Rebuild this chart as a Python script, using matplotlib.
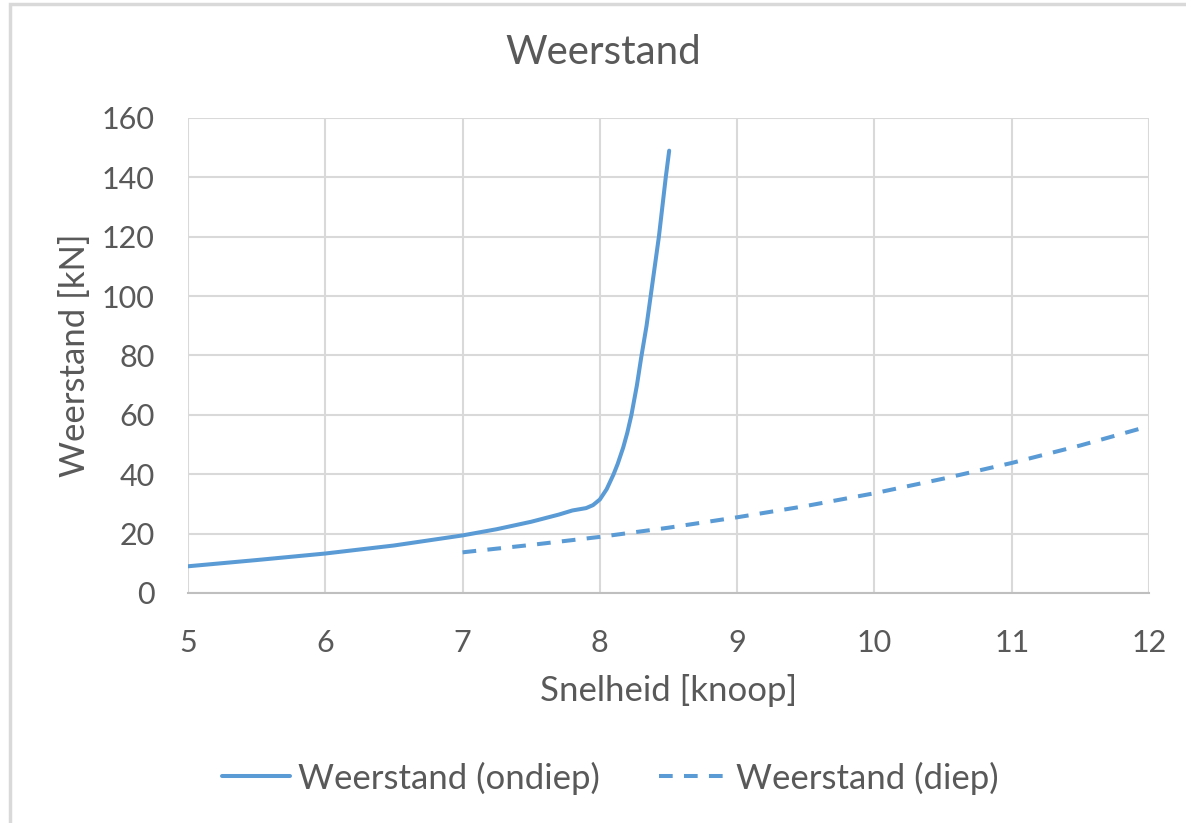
import matplotlib.pyplot as plt
from matplotlib.patches import Rectangle

plt.rcParams['font.family'] = ['Lato', 'DejaVu Sans']

# ondiep water (solid)
snelheid_ondiep = [5.0, 5.5, 6.0, 6.5, 7.0, 7.25, 7.5, 7.7, 7.8, 7.9, 7.95, 8.0, 8.05, 8.1, 8.13, 8.17,
                   8.2, 8.23, 8.27, 8.3, 8.34, 8.37, 8.43, 8.48, 8.505]
weerstand_ondiep = [9.0, 11.1, 13.3, 16.0, 19.4, 21.5, 24.0, 26.4, 27.8, 28.6, 29.6, 31.5, 35.0, 40.0, 43.5, 49.0,
                    54.0, 60.0, 70.0, 79.0, 90.0, 100.0, 120.0, 140.0, 149.0]

# diep water (dashed)
snelheid_diep = [7.0, 7.5, 8.0, 8.5, 9.0, 9.5, 10.0, 10.5, 11.0, 11.5, 12.0]
weerstand_diep = [13.7, 16.2, 18.9, 22.0, 25.5, 29.3, 33.6, 38.5, 43.8, 49.7, 56.2]

x_ticks = [5, 6, 7, 8, 9, 10, 11, 12]
y_ticks = [0, 20, 40, 60, 80, 100, 120, 140, 160]

blauw = '#5B9BD5'
tekst = '#595959'
grid = '#D9D9D9'

fig = plt.figure(figsize=(11.86, 8.23), dpi=100)
fig.patches.append(Rectangle((10 / 1186, -0.01), 1.02, 1 - 4 / 823 + 0.01, transform=fig.transFigure,
                             fill=False, edgecolor='#D9D9D9', linewidth=2.5))

ax = fig.add_axes([188 / 1186, 1 - 593 / 823, (1149 - 188) / 1186, (593 - 118) / 823])
ax.plot(snelheid_ondiep, weerstand_ondiep, color=blauw, lw=2.9, label='Weerstand (ondiep)',
        solid_capstyle='round', solid_joinstyle='round')
ax.plot(snelheid_diep, weerstand_diep, color=blauw, lw=2.9, ls=(0, (3.4, 2.8)), label='Weerstand (diep)')

ax.set_xlim(5, 12)
ax.set_ylim(0, 160)
ax.set_xticks(x_ticks)
ax.set_yticks(y_ticks)
ax.grid(True, color=grid, lw=1.5)
ax.set_axisbelow(True)
for s in ['top', 'right', 'left']:
    ax.spines[s].set_visible(False)
ax.spines['bottom'].set_color('#BFBFBF')
ax.spines['bottom'].set_linewidth(1.5)
ax.tick_params(length=0, labelsize=22, colors=tekst)
ax.tick_params(axis='x', pad=26)
ax.tick_params(axis='y', pad=24)

ax.set_xlabel('Snelheid [knoop]', fontsize=25, color=tekst, labelpad=12)
ax.set_ylabel('Weerstand [kN]', fontsize=25, color=tekst, labelpad=8)
fig.text(603 / 1186, 1 - 52 / 823, 'Weerstand', fontsize=29, color=tekst,
         ha='center', va='center')

fig.legend(loc='center', bbox_to_anchor=(610 / 1186, 1 - 778 / 823), ncol=2, frameon=False,
           fontsize=25, labelcolor=tekst, handlelength=1.95, columnspacing=1.7, handletextpad=0.25)

fig.savefig('out.png', dpi=100)
